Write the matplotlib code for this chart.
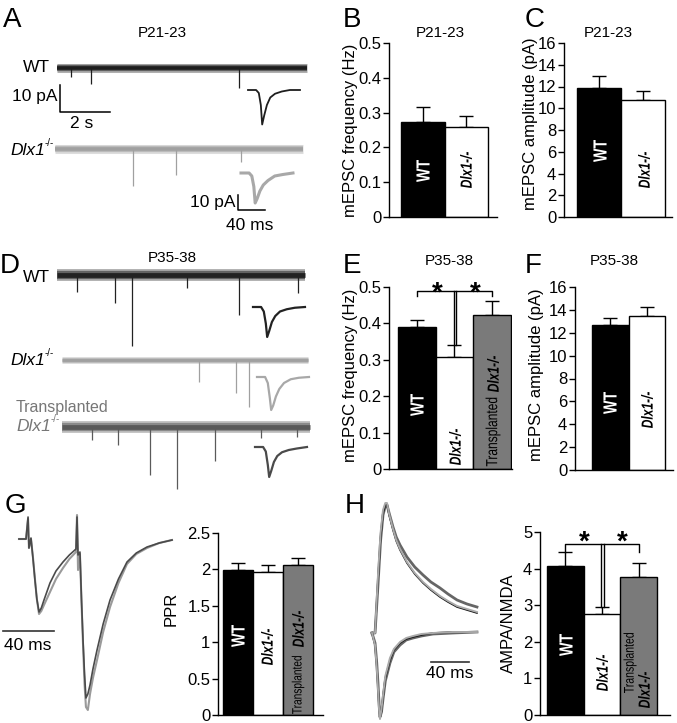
import numpy as np
import matplotlib
matplotlib.use("Agg")
import matplotlib.pyplot as plt
from matplotlib.transforms import Affine2D
from matplotlib.textpath import TextPath
from matplotlib.patches import PathPatch
from matplotlib.font_manager import FontProperties

plt.rcParams['font.family'] = ['Liberation Sans', 'DejaVu Sans']

W, H = 677, 723

# ---------------- bar data (mean, top of error bar) ----------------
freq_p21 = [0.273, 0.259]
freq_p21_top = [0.316, 0.290]
amp_p21 = [11.9, 10.8]
amp_p21_top = [13.0, 11.6]
freq_p35 = [0.389, 0.307, 0.424]
freq_p35_top = [0.409, 0.340, 0.461]
amp_p35 = [12.65, 13.49]
amp_p35_top = [13.26, 14.22]
ppr = [1.99, 1.97, 2.06]
ppr_top = [2.09, 2.06, 2.15]
ampa_nmda = [4.06, 2.77, 3.77]
ampa_nmda_top = [4.44, 2.94, 4.15]

# ---------------- spontaneous traces: event time (s), amplitude (pA) ----------------
a_wt_t = [0.56, 1.36, 7.28]
a_wt_amp = [3.3, 5.9, 7.4]
a_ko_t = [3.12, 4.84, 7.44]
a_ko_amp = [13.7, 9.6, 4.8]
d_wt_t = [0.8, 2.32, 3.0, 5.2, 7.28, 9.64]
d_wt_amp = [6.3, 10.4, 26.3, 4.8, 14.8, 6.7]
d_ko_t = [5.48, 6.96, 7.48]
d_ko_amp = [8.1, 12.2, 17.4]
d_tr_t = [1.2, 2.24, 3.52, 4.6, 6.12, 7.96, 9.4]
d_tr_amp = [4.8, 6.7, 17.8, 23.0, 12.6, 4.1, 3.7]

# averaged mEPSC insets: time (ms), current (pA)
ins_t = [0, 12, 16, 19, 21, 24, 28, 33, 40, 50, 62, 77]
ins_a_wt = [0, 0, -2, -10, -23, -17, -10, -5, -2.5, -1, 0, 0]
ins_a_ko = [0, 0, -2, -9, -20, -17, -12, -8, -5, -2, -1, 0]
ins_d_wt = [0, 0, -3, -11, -20, -16, -10, -6, -3, -1.5, -0.5, 0]
ins_d_ko = [0, 0, -4, -14, -22, -19, -13, -8, -4, -1.5, -0.5, 0]
ins_d_tr = [0, 0, -3, -12, -20, -16, -10, -6, -3.5, -2, -1, 0]

# paired pulse traces (ms, pA)
g_t = [0, 5.5, 7.1, 7.8, 9.4, 11, 12.5, 14, 15.7, 17.5, 19.6, 24.3, 29, 34.5, 39.5,
       44.7, 45.5, 46.3, 47.8, 49, 50.2, 51.4, 52.5, 54, 55.7, 58, 61.2, 66, 71.4,
       78, 84.7, 92, 100.4, 110, 120]
g_dark = [0, 0, 22, -9, 1, -20, -41, -60, -73, -69, -61, -44, -32, -23, -16,
          -10, 22, -16, -13, -60, -101, -135, -159, -155, -146, -130, -111, -85, -61,
          -40, -23, -14, -8, -4, -1]
g_light = [0, 0, 20, -9, 0, -19, -40, -60, -75, -72, -66, -53, -40, -29, -20,
           -13, 24, -31, -15, -62, -105, -145, -168, -171, -155, -139, -121, -93, -68,
           -44, -25, -15, -9, -4, -1]

# AMPA/NMDA traces (ms, pA)
h_t_up = [0, 3.2, 6.3, 9, 11.6, 14, 15.8, 18, 22.1, 25.5, 29.5, 36.8, 45, 53.7,
          62, 71.6, 80, 89.5, 100, 110.5]
h_up_black = [0, 0, 53, 95, 120, 128, 129, 118, 103, 92, 83, 70, 59, 50, 43, 36, 31, 26, 23, 20]
h_up_light = [0, 0, 58, 100, 123, 130, 130, 119, 104, 93, 84, 71, 60, 51, 44, 37, 32, 27, 24, 21]
h_up_gray = [0, 0, 48, 92, 118, 127, 128, 120, 106, 96, 88, 76, 66, 58, 51, 45, 39, 33, 29, 26]
h_t_dn = [0, 3.2, 5, 6.3, 7.5, 8.4, 10, 11.6, 14, 18.9, 23, 29.5, 36, 43.2, 52, 64.2, 85, 110.5]
h_dn_black = [0, -12, -32, -54, -75, -85, -78, -64, -45, -27, -17, -10, -6, -4, -2, 0, 1, 1]
h_dn_light = [0, -12, -34, -56, -77, -86, -76, -62, -43, -25, -16, -9, -5, -3, -1, 0, 1, 1]
h_dn_gray = [0, -10, -30, -50, -72, -84, -79, -66, -48, -30, -19, -12, -7, -5, -3, -1, 0, 1]

fig = plt.figure(figsize=(W / 100, H / 100), dpi=100)
cv = fig.add_axes([0, 0, 1, 1])
cv.axis('off')


def place(ox, oy, sx, sy):
    # data units -> pixel position on the canvas
    return Affine2D().scale(sx, -sy).translate(ox, oy) + cv.transData


def spont(ox, oy, dur, ev_t, ev_a, color, thick):
    tr = place(ox, oy, 25, 2.7)
    for f, al in [(1.0, 0.35), (0.7, 0.55), (0.4, 1.0)]:
        cv.plot([0, dur], [0, 0], color=color, lw=thick * f, alpha=al,
                solid_capstyle='butt', transform=tr)
    cv.vlines(ev_t, -np.array(ev_a), 0, color=color, lw=0.9, transform=tr)


def inset(ox, oy, amps, color, lw):
    tr = place(ox, oy, 0.675, 1.5)
    cv.plot(ins_t, amps, color=color, lw=lw, transform=tr)


# panel A
spont(57, 68, 10.0, a_wt_t, a_wt_amp, '#1e1e1e', 6.5)
inset(248, 90, ins_a_wt, '#1e1e1e', 1.3)
spont(55, 149, 9.9, a_ko_t, a_ko_amp, '#a0a0a0', 6.5)
inset(241, 173, ins_a_ko, '#a8a8a8', 2.2)
cv.plot([0, 0, 2], [10, 0, 0], color='k', lw=1.1, transform=place(60, 112, 25, 2.7))
cv.plot([0, 0, 40], [10, 0, 0], color='k', lw=1.1, transform=place(238, 210, 0.675, 1.5))

# panel D
spont(57, 275, 9.9, d_wt_t, d_wt_amp, '#222222', 8.6)
inset(253, 307, ins_d_wt, '#222222', 1.6)
spont(62, 360, 9.85, d_ko_t, d_ko_amp, '#a0a0a0', 5.0)
inset(257, 377, ins_d_ko, '#a8a8a8', 1.6)
spont(62, 427, 9.9, d_tr_t, d_tr_amp, '#5a5a5a', 8.6)
inset(255, 447, ins_d_tr, '#4a4a4a', 1.6)

# panel G traces
tr_g = place(19, 539, 1.275, 1.0)
cv.plot(g_t, g_light, color='#9a9a9a', lw=1.5, transform=tr_g)
cv.plot(g_t, g_dark, color='#4a4a4a', lw=1.2, transform=tr_g)
cv.plot([0, 40], [0, 0], color='#333333', lw=1.2, transform=place(3, 631, 1.275, 1.0))

# panel H traces
tr_h = place(372, 633, 0.95, 1.0)
cv.plot(h_t_up, h_up_gray, color='#666666', lw=2.0, transform=tr_h)
cv.plot(h_t_up, h_up_black, color='#111111', lw=1.2, transform=tr_h)
cv.plot(h_t_up, h_up_light, color='#aaaaaa', lw=1.4, transform=tr_h)
cv.plot(h_t_dn, h_dn_gray, color='#666666', lw=2.0, transform=tr_h)
cv.plot(h_t_dn, h_dn_black, color='#111111', lw=1.2, transform=tr_h)
cv.plot(h_t_dn, h_dn_light, color='#aaaaaa', lw=1.4, transform=tr_h)
cv.plot([0, 40], [0, 0], color='#333333', lw=1.2, transform=place(431, 662, 0.95, 1.0))

cv.set_xlim(0, W)
cv.set_ylim(H, 0)

# text on the canvas
for s, x, y in [('A', 3, 27), ('B', 343, 27), ('C', 525, 27), ('D', 0, 273),
                ('E', 343, 273), ('F', 525, 273), ('G', 5, 513), ('H', 345, 513)]:
    cv.text(x, y, s, fontsize=20, va='baseline', ha='left')
for s, x, y in [('P21-23', 162, 37), ('P21-23', 440, 37), ('P21-23', 608, 37),
                ('P35-38', 172, 262), ('P35-38', 449, 265), ('P35-38', 614, 265)]:
    cv.text(x, y, s, fontsize=11, ha='center', va='baseline')


def ko_text(x, y, color='black'):
    # y is the baseline
    cv.text(x, y, 'Dlx1', fontsize=12.5, style='italic', ha='left', va='baseline', color=color)
    cv.text(x + 35, y - 9, '-/-', fontsize=7, ha='left', va='baseline', color=color)


cv.text(50, 67, 'WT', fontsize=12.5, ha='right', va='center')
ko_text(10, 155)
cv.text(58, 97, '10 pA', fontsize=12.5, ha='right', va='center')
cv.text(82, 124, '2 s', fontsize=12.5, ha='center', va='center')
cv.text(236, 202, '10 pA', fontsize=12.5, ha='right', va='center')
cv.text(250, 225, '40 ms', fontsize=12.5, ha='center', va='center')
cv.text(50, 277, 'WT', fontsize=12.5, ha='right', va='center')
ko_text(10, 365)
cv.text(16, 412, 'Transplanted', fontsize=11.5, ha='left', va='baseline', color='#777777')
ko_text(16, 431, '#777777')
cv.text(28, 646, '40 ms', fontsize=12.5, ha='center', va='center')
cv.text(450, 673, '40 ms', fontsize=12.5, ha='center', va='center')

for s, x, y in [('mEPSC frequency (Hz)', 350, 130), ('mEPSC amplitude (pA)', 530, 124),
                ('mEPSC frequency (Hz)', 350, 375), ('mEPSC amplitude (pA)', 536, 375),
                ('PPR', 171, 609), ('AMPA/NMDA', 508, 623)]:
    cv.text(x, y, s, fontsize=12, rotation=90, ha='center', va='center')


def bar_panel(box, xlim, ylim, ticks, means, tops, colors):
    l, t, r, b = box
    ax = fig.add_axes([l / W, 1 - b / H, (r - l) / W, (b - t) / H])
    ax.patch.set_visible(False)
    x = np.arange(len(means))
    err = np.array(tops) - np.array(means)
    ax.errorbar(x, means, yerr=[np.zeros_like(err), err], fmt='none', ecolor='black',
                elinewidth=1, capsize=5, capthick=1, zorder=1)
    ax.bar(x, means, width=1, color=colors, edgecolor='black', lw=1, zorder=2)
    for s in ['top', 'right']:
        ax.spines[s].set_visible(False)
    ax.spines['left'].set_linewidth(1)
    ax.spines['bottom'].set_linewidth(1)
    ax.set_xlim(xlim)
    ax.set_ylim(ylim)
    ax.set_xticks([])
    ax.set_yticks(ticks, [('%g' % v) for v in ticks])
    ax.tick_params(axis='y', length=4, width=1, labelsize=12, pad=1.5)
    return ax


def narrow_label(px, py, s, em, color='black', weight='bold', style='normal', squeeze=0.75):
    # condensed, rotated bar label centred on pixel (px, py)
    fp = FontProperties(family='Liberation Sans', weight=weight, style=style)
    path = TextPath((0, 0), s, size=em, prop=fp)
    bb = path.get_extents()
    t = (Affine2D().translate(-(bb.x0 + bb.x1) / 2, -(bb.y0 + bb.y1) / 2)
         .scale(squeeze, 1).rotate_deg(90).translate(px, H - py))
    fig.add_artist(PathPatch(path, transform=t, fc=color, ec='none', lw=0, zorder=5))


two = ['black', 'white']
three = ['black', 'white', '#7a7a7a']

bar_panel((389, 43, 497, 217), (-0.776, 1.707), (0, 0.5), [0, 0.1, 0.2, 0.3, 0.4, 0.5],
          freq_p21, freq_p21_top, two)
narrow_label(423, 171, 'WT', 19, 'white')
narrow_label(466, 170, 'Dlx1-/-', 16, style='italic')

bar_panel((564, 43, 672, 217), (-0.795, 1.66), (0, 16), list(range(0, 17, 2)),
          amp_p21, amp_p21_top, two)
narrow_label(600, 151, 'WT', 19, 'white')
narrow_label(644, 170, 'Dlx1-/-', 16, style='italic')

ax = bar_panel((389, 287, 512, 469), (-0.74, 2.53), (0, 0.5), [0, 0.1, 0.2, 0.3, 0.4, 0.5],
               freq_p35, freq_p35_top, three)
narrow_label(417, 405, 'WT', 19, 'white')
narrow_label(455, 447, 'Dlx1-/-', 16, style='italic')
narrow_label(493, 432, 'Transplanted', 16, weight='normal')
narrow_label(493, 374, 'Dlx1-/-', 16, style='italic')
kw = dict(color='black', lw=1, clip_on=False)
ax.plot([0, 0, 2, 2], [0.475, 0.49, 0.49, 0.475], **kw)
ax.plot([0.98, 0.98], [0.49, 0.34], **kw)
ax.plot([1.04, 1.04], [0.49, 0.34], **kw)
for xs in [0.55, 1.55]:
    ax.text(xs, 0.462, '*', fontsize=20, fontweight='bold', ha='center', va='baseline',
            clip_on=False)

bar_panel((575, 287, 673, 470), (-0.966, 1.719), (0, 16), list(range(0, 17, 2)),
          amp_p35, amp_p35_top, two)
narrow_label(610, 403, 'WT', 19, 'white')
narrow_label(647, 410, 'Dlx1-/-', 16, style='italic')

bar_panel((218, 533, 323, 715), (-0.667, 2.833), (0, 2.5), [0, 0.5, 1, 1.5, 2, 2.5],
          ppr, ppr_top, three)
narrow_label(238, 636, 'WT', 19, 'white')
narrow_label(267, 647, 'Dlx1-/-', 16, style='italic')
narrow_label(298, 685, 'Transplanted', 13.5, weight='normal')
narrow_label(298, 629, 'Dlx1-/-', 16, style='italic')

ax = bar_panel((540, 532, 670, 715), (-0.691, 2.854), (0, 5), [0, 1, 2, 3, 4, 5],
               ampa_nmda, ampa_nmda_top, three)
narrow_label(566, 645, 'WT', 19, 'white')
narrow_label(602, 673, 'Dlx1-/-', 16, style='italic')
narrow_label(630, 663, 'Transplanted', 14, weight='normal')
narrow_label(644, 690, 'Dlx1-/-', 16, style='italic')
ax.plot([0, 0, 2, 2], [4.45, 4.66, 4.66, 4.45], **kw)
ax.plot([0.97, 0.97], [4.66, 2.94], **kw)
ax.plot([1.05, 1.05], [4.66, 2.94], **kw)
for xs in [0.53, 1.54]:
    ax.text(xs, 4.52, '*', fontsize=20, fontweight='bold', ha='center', va='baseline',
            clip_on=False)

fig.savefig('out.png', dpi=100)
